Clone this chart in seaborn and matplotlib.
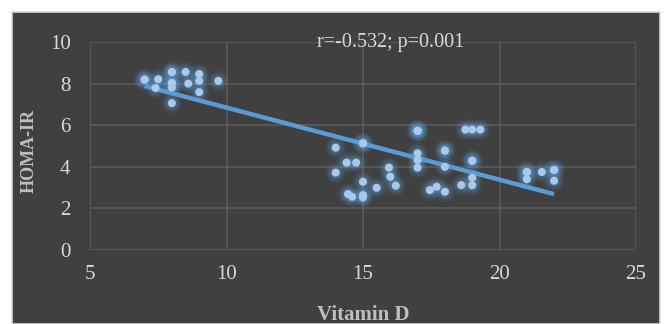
import matplotlib
matplotlib.use("Agg")
import matplotlib.pyplot as plt
from matplotlib.patches import Rectangle
import seaborn as sns
import pandas as pd

vitamin_d = [7.0, 7.0, 7.5, 7.4, 8.0, 8.0, 8.0, 8.0, 8.0, 8.0, 8.5, 8.6, 9.0, 9.0, 9.0, 9.7,
             14.0, 14.0, 14.4, 14.75, 15.0, 15.0, 15.0, 15.0, 15.0, 14.45, 14.6, 15.5,
             15.95, 16.0, 16.2, 17.0, 17.0, 17.0, 17.0, 17.0, 17.0, 17.45, 17.7, 18.0,
             18.0, 18.0, 18.0, 18.75, 19.0, 19.3, 18.6, 19.0, 19.0, 19.0, 19.0, 21.0,
             21.0, 21.0, 21.55, 22.0, 22.0, 22.0]
homa_ir = [8.19, 8.19, 8.21, 7.79, 8.56, 8.56, 8.03, 8.03, 7.81, 7.06, 8.56, 8.0, 8.46,
           8.13, 7.59, 8.13,
           4.92, 3.72, 4.2, 4.2, 5.13, 5.13, 3.28, 2.64, 2.53, 2.69, 2.56, 2.99,
           3.96, 3.52, 3.09, 5.73, 5.73, 5.73, 4.65, 4.33, 3.96, 2.88, 3.04, 2.8,
           4.78, 4.78, 4.0, 5.79, 5.79, 5.79, 3.12, 4.29, 4.29, 3.47, 3.11, 3.75,
           3.75, 3.4, 3.75, 3.85, 3.85, 3.33]
x_ticks = [5, 10, 15, 20, 25]
y_ticks = [0, 2, 4, 6, 8, 10]
annotation = "r=-0.532; p=0.001"
x_label = "Vitamin D"
y_label = "HOMA-IR"

df = pd.DataFrame({"Vitamin D": vitamin_d, "HOMA-IR": homa_ir})

sns.set_theme(style="dark")
plt.rcParams["font.family"] = ["Liberation Serif", "DejaVu Serif"]

W, H = 664, 324
fig = plt.figure(figsize=(W / 100, H / 100), dpi=100, facecolor="white")
bg = Rectangle((12 / W, 0), 648 / W, 312 / H, transform=fig.transFigure,
               facecolor="#404040", edgecolor="#d9d9d9", linewidth=1.2, zorder=-10)
fig.patches.append(bg)

ax = fig.add_axes([90 / W, 1 - 250 / H, 546 / W, 208 / H])
ax.set_facecolor("none")
ax.set_zorder(1)

glow = "#5b9bd5"
for s, a in [(230, 0.08), (150, 0.13), (85, 0.22)]:
    sns.scatterplot(data=df, x="Vitamin D", y="HOMA-IR", ax=ax, s=s, color=glow,
                    alpha=a, edgecolor="none", linewidth=0, zorder=2, legend=False)
sns.scatterplot(data=df, x="Vitamin D", y="HOMA-IR", ax=ax, s=34, color="#a9c9ea",
                edgecolor="none", linewidth=0, zorder=4, legend=False)
sns.regplot(data=df, x="Vitamin D", y="HOMA-IR", ax=ax, scatter=False, ci=None,
            line_kws={"color": "#5b9bd5", "linewidth": 3.2, "zorder": 3,
                      "solid_capstyle": "butt"})

ax.set_xlim(5, 25)
ax.set_ylim(0, 10)
ax.set_xticks(x_ticks)
ax.set_yticks(y_ticks)
ax.grid(True, color="#5e5e5e", linewidth=1.1)
ax.set_axisbelow(True)
for sp in ax.spines.values():
    sp.set_visible(False)
ax.tick_params(axis="both", length=0, colors="#d9d9d9", labelsize=15)
ax.tick_params(axis="y", pad=14)
ax.tick_params(axis="x", pad=11)
for lab in ax.get_xticklabels() + ax.get_yticklabels():
    lab.set_color("#d9d9d9")

ax.set_xlabel(x_label, fontsize=15, fontweight="bold", color="#bfbfbf")
ax.set_ylabel(y_label, fontsize=13, fontweight="bold", color="#bfbfbf")
ax.xaxis.set_label_coords(0.5, -0.265)
ax.yaxis.set_label_coords(-0.095, 0.476)

ax.text(0.55, 1.0, annotation, transform=ax.transAxes, ha="center", va="center",
        fontsize=14.5, color="#d9d9d9", zorder=6)

fig.savefig("out.png", dpi=100, facecolor=fig.get_facecolor())
